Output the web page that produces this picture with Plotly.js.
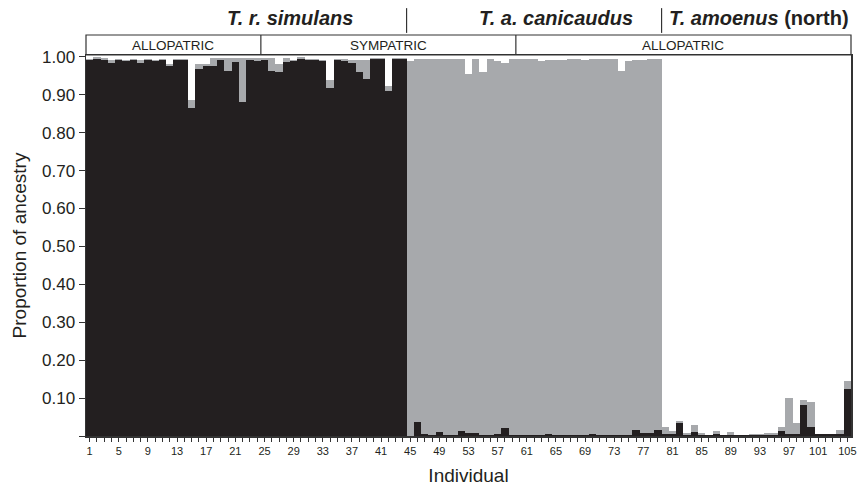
<!DOCTYPE html>
<html>
<head>
<meta charset="utf-8">
<script src="https://cdn.plot.ly/plotly-3.0.1.min.js"></script>
<style>
  html, body { margin: 0; padding: 0; background: #fff; }
  #chart { width: 858px; height: 489px; }
</style>
</head>
<body>
<div id="chart"></div>
<script>
// Individuals 1..105 (category index)
const individuals = Array.from({length: 105}, (_, i) => i + 1);

// Tick labels shown on the x axis
const xTickLabels = ['1','5','9','13','17','21','25','29','33','37','41','45','49','53','57','61','65','69','73','77','81','85','89','93','97','101','105'];

// Y tick labels
const yTickValues = [0, 0.1, 0.2, 0.3, 0.4, 0.5, 0.6, 0.7, 0.8, 0.9, 1.0];
const yTickLabels = ['', '0.10', '0.20', '0.30', '0.40', '0.50', '0.60', '0.70', '0.80', '0.90', '1.00'];

// Proportion of ancestry: black cluster (T. r. simulans)
const blackCluster = [
  0.993, 0.995, 0.993, 0.984, 0.992, 0.988, 0.992, 0.985, 0.992, 0.990,
  0.992, 0.975, 0.993, 0.993, 0.866, 0.967, 0.977, 0.976, 0.991, 0.963,
  0.986, 0.880, 0.991, 0.988, 0.993, 0.964, 0.960, 0.986, 0.988, 0.995,
  0.991, 0.991, 0.988, 0.918, 0.993, 0.988, 0.984, 0.960, 0.943, 0.995,
  0.995, 0.910, 0.994, 0.994,
  0.001, 0.036, 0.006, 0.003, 0.010, 0.003, 0.003, 0.012, 0.009, 0.007,
  0.003, 0.002, 0.004, 0.021, 0.002, 0.002, 0.002, 0.002, 0.002, 0.004,
  0.002, 0.002, 0.002, 0.002, 0.002, 0.004, 0.002, 0.002, 0.002, 0.002,
  0.002, 0.015, 0.007, 0.007, 0.016,
  0.004, 0.004, 0.034, 0.002, 0.010, 0.002, 0.002, 0.004, 0.002, 0.002,
  0.002, 0.002, 0.002, 0.002, 0.002, 0.002, 0.013, 0.004, 0.004, 0.083,
  0.023, 0.004, 0.004, 0.004, 0.004, 0.123
];

// Proportion of ancestry: gray cluster (T. a. canicaudus)
const grayCluster = [
  0.002, 0.005, 0.003, 0.009, 0.002, 0.005, 0.002, 0.008, 0.002, 0.003,
  0.002, 0.005, 0.002, 0.002, 0.021, 0.013, 0.004, 0.022, 0.005, 0.035,
  0.012, 0.118, 0.005, 0.008, 0.003, 0.034, 0.022, 0.012, 0.005, 0.004,
  0.003, 0.003, 0.005, 0.022, 0.002, 0.006, 0.007, 0.033, 0.050, 0.002,
  0.002, 0.013, 0.002, 0.002,
  0.988, 0.958, 0.988, 0.991, 0.985, 0.992, 0.992, 0.983, 0.947, 0.988,
  0.957, 0.993, 0.985, 0.964, 0.993, 0.993, 0.993, 0.993, 0.988, 0.988,
  0.990, 0.990, 0.993, 0.993, 0.990, 0.991, 0.993, 0.993, 0.993, 0.961,
  0.987, 0.977, 0.985, 0.988, 0.979,
  0.021, 0.009, 0.005, 0.005, 0.018, 0.005, 0.000, 0.010, 0.000, 0.008,
  0.000, 0.000, 0.004, 0.004, 0.006, 0.005, 0.012, 0.096, 0.030, 0.011,
  0.068, 0.000, 0.000, 0.000, 0.011, 0.023
];

const BLACK = '#231f20';
const GRAY = '#a7a9ac';
const LINE = '#333333';
const FONT = 'Liberation Sans, Arial, Helvetica, sans-serif';

const traces = [
  {
    type: 'bar', x: individuals, y: blackCluster, name: 'black',
    marker: {color: BLACK, line: {width: 0}}, hoverinfo: 'x+y'
  },
  {
    type: 'bar', x: individuals, y: grayCluster, name: 'gray',
    marker: {color: GRAY, line: {width: 0}}, hoverinfo: 'x+y'
  }
];

const ticktext = individuals.map(v => xTickLabels.includes(String(v)) ? String(v) : '');

// header geometry in paper units
const nBars = individuals.length;
const px = (edge) => (edge - 0.5) / nBars;
const boxTop = 1.0525;

const layout = {
  width: 858, height: 489,
  margin: {l: 86, r: 7, t: 55, b: 53, pad: 0},
  paper_bgcolor: '#ffffff', plot_bgcolor: '#ffffff',
  barmode: 'stack', bargap: 0,
  showlegend: false,
  font: {family: FONT, color: BLACK},
  xaxis: {
    range: [0.5, 105.5], tickmode: 'array', tickvals: individuals, ticktext: ticktext,
    ticks: 'outside', ticklen: 4, tickwidth: 1, tickcolor: LINE,
    tickfont: {size: 11, family: FONT, color: BLACK}, tickangle: 0,
    showline: true, linecolor: LINE, linewidth: 1.5, mirror: true,
    showgrid: false, zeroline: false,
    title: {text: 'Individual', font: {size: 19, family: FONT, color: BLACK}, standoff: 13}
  },
  yaxis: {
    range: [0, 1.005], tickmode: 'array', tickvals: yTickValues, ticktext: yTickLabels,
    ticks: 'outside', ticklen: 6, tickwidth: 1, tickcolor: LINE,
    tickfont: {size: 17, family: FONT, color: BLACK},
    showline: true, linecolor: LINE, linewidth: 1.5, mirror: true,
    showgrid: false, zeroline: false,
    title: {text: 'Proportion of ancestry', font: {size: 19, family: FONT, color: BLACK}, standoff: 10}
  },
  shapes: [
    {type: 'rect', xref: 'paper', yref: 'paper', x0: 0, x1: 1, y0: 1, y1: boxTop,
     line: {color: LINE, width: 1.2}, fillcolor: 'rgba(0,0,0,0)'},
    {type: 'line', xref: 'paper', yref: 'paper', x0: px(24.5), x1: px(24.5), y0: 1, y1: boxTop,
     line: {color: LINE, width: 1.2}},
    {type: 'line', xref: 'paper', yref: 'paper', x0: px(59.5), x1: px(59.5), y0: 1, y1: boxTop,
     line: {color: LINE, width: 1.2}},
    {type: 'line', xref: 'paper', yref: 'paper', x0: px(44.5), x1: px(44.5), y0: 1.058, y1: 1.123,
     line: {color: LINE, width: 1.2}},
    {type: 'line', xref: 'paper', yref: 'paper', x0: px(79.5), x1: px(79.5), y0: 1.058, y1: 1.123,
     line: {color: LINE, width: 1.2}}
  ],
  annotations: [
    {xref: 'paper', yref: 'paper', x: (px(0.5) + px(24.5)) / 2, y: 1.026, text: 'ALLOPATRIC',
     showarrow: false, xanchor: 'center', yanchor: 'middle', font: {size: 13.5, family: FONT, color: BLACK}},
    {xref: 'paper', yref: 'paper', x: (px(24.5) + px(59.5)) / 2, y: 1.026, text: 'SYMPATRIC',
     showarrow: false, xanchor: 'center', yanchor: 'middle', font: {size: 13.5, family: FONT, color: BLACK}},
    {xref: 'paper', yref: 'paper', x: (px(59.5) + px(105.5)) / 2, y: 1.026, text: 'ALLOPATRIC',
     showarrow: false, xanchor: 'center', yanchor: 'middle', font: {size: 13.5, family: FONT, color: BLACK}},
    {xref: 'paper', yref: 'paper', x: 0.2667, y: 1.097, text: '<b><i>T. r. simulans</i></b>',
     showarrow: false, xanchor: 'center', yanchor: 'middle', font: {size: 20, family: FONT, color: BLACK}},
    {xref: 'paper', yref: 'paper', x: 0.614, y: 1.097, text: '<b><i>T. a. canicaudus</i></b>',
     showarrow: false, xanchor: 'center', yanchor: 'middle', font: {size: 20, family: FONT, color: BLACK}},
    {xref: 'paper', yref: 'paper', x: 1.0, y: 1.097, text: '<b><i>T. amoenus</i> (north)</b>',
     showarrow: false, xanchor: 'right', yanchor: 'middle', font: {size: 20, family: FONT, color: BLACK}}
  ]
};

Plotly.newPlot('chart', traces, layout, {displayModeBar: false, staticPlot: true});
</script>
</body>
</html>
